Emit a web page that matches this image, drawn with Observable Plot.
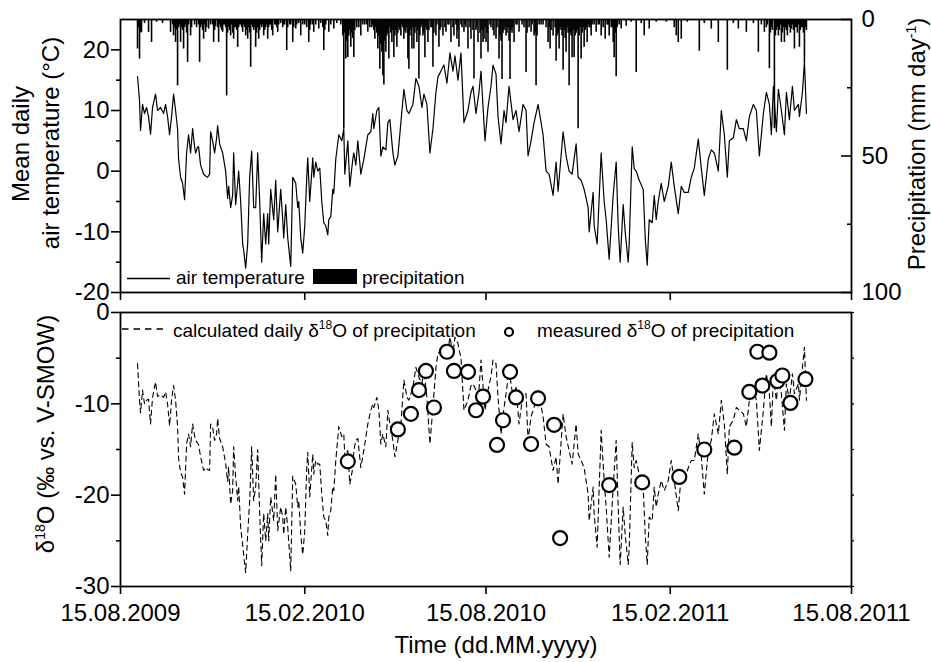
<!DOCTYPE html>
<html>
<head>
<meta charset="utf-8">
<script src="https://cdn.jsdelivr.net/npm/d3@7"></script>
<script src="https://cdn.jsdelivr.net/npm/@observablehq/plot@0.6"></script>
<style>
  body { margin: 0; background: #fff; }
  #chart { position: relative; width: 931px; height: 662px; font-family: "Liberation Sans", Arial, sans-serif; color: #000; overflow: hidden; }
  .ytitle, .xtitle { position: absolute; white-space: nowrap; font-size: 24px; line-height: 1; }
  .ytitle { transform: translate(-50%, -50%) rotate(-90deg); }
  .xtitle { transform: translate(-50%, -50%); }
  .ytitle sup, .xtitle sup { font-size: 14px; vertical-align: 9px; line-height: 0; }
</style>
</head>
<body>
<div id="chart">
  <div class="ytitle" style="left:21px;top:144px">Mean daily</div>
  <div class="ytitle" style="left:51px;top:143px">air temperature (°C)</div>
  <div class="ytitle" style="left:917px;top:144px">Precipitation (mm day<sup>-1</sup>)</div>
  <div class="ytitle" style="left:46px;top:434px">δ<sup>18</sup>O (‰ vs. V-SMOW)</div>
  <div class="xtitle" style="left:496px;top:645px">Time (dd.MM.yyyy)</div>
</div>
<script>
// ---------- data (day = days after 15.08.2009) ----------
const startDate = "2009-08-15";
const dateTicks = ["2009-08-15", "2010-02-15", "2010-08-15", "2011-02-15", "2011-08-15"];
const tempTicks = [-20, -10, 0, 10, 20];
const tempMinorTicks = [-15, -5, 5, 15];
const precipTicks = [0, 50, 100];
const precipMinorTicks = [25, 75];
const isoTicks = [-30, -20, -10, 0];
const isoMinorTicks = [-25, -15, -5];

// mean daily air temperature [day, °C]
const airTemperature = [[17,15.6],[19,11.6],[20,6.7],[22,11],[24,9.5],[26,10.5],[28,9],[30,6.1],[32,10.5],[35,12.7],[37,10],[40,10.5],[43,9.5],[45,11],[47,9],[49,6],[51,9],[53,12.7],[55,10],[57,7],[58,2],[60,-1],[62,-2],[64,-4.7],[66,3],[68,6],[70,3],[72,7],[74,4],[75,3],[77,4],[78,4],[80,1],[83,-0.5],[85,-0.8],[87,-1],[89,-0.5],[90,6.5],[92,5],[94,3],[96,5.5],[97,7.5],[99,4.5],[102,3],[105,0],[107,-4.5],[108,-2.5],[110,-6],[112,-4],[113,3],[115,-5.5],[117,-2],[118,0],[120,-5],[122,-12],[123,-13],[125,-16],[127,-12],[129,-1],[131,3.3],[133,-6],[135,-6],[137,3],[139,-5],[141,-15],[143,-7],[145,-12],[147,-7],[148,-12],[150,-3],[153,-8],[155,-1.5],[157,-10],[160,-3],[162,-8],[163,-11],[165,-5.5],[167,-11],[170,-15.7],[172,-1],[175,-2],[177,-6],[178,-5],[180,-11],[182,-13.5],[184,-9],[186,-1],[187,2.2],[189,-5],[192,2.2],[193,-1],[195,1.5],[197,0],[199,0.5],[201,-5],[203,-8.5],[205,-9],[207,-10.5],[208,-8],[210,-7.5],[212,-3],[213,-3.7],[215,2],[218,6],[221,5],[223,7],[224,-0.5],[227,5],[229,-2.5],[232,2],[233,3],[235,1],[237,5],[240,-0.5],[243,2],[247,6],[250,6.5],[252,9.5],[253,7],[256,10],[258,10.5],[260,2.5],[262,4],[265,3.5],[267,8],[269,8.5],[272,3],[274,1],[277,2.5],[280,8],[283,13.5],[286,10],[288,9.5],[292,11],[295,15.3],[298,14],[301,10.5],[303,12.7],[306,11],[309,3],[312,7],[315,13],[317,15.5],[320,16.5],[323,17.5],[326,14.5],[329,19.5],[332,16.5],[334,19],[337,15],[340,19.5],[343,8],[347,10],[350,13],[352,14],[355,9.5],[358,13],[360,16.5],[364,5],[367,10.5],[370,14],[372,17.5],[375,16],[377,9],[380,4.5],[383,10],[385,8],[388,14],[392,8.5],[395,10],[398,6.5],[402,11],[405,10],[407,2.5],[410,5],[413,8],[417,11],[422,6],[425,0],[428,-0.5],[432,-4],[435,1.5],[437,-3.3],[442,6.5],[445,2.5],[448,0],[451,-0.5],[455,4.5],[457,-1],[460,-1.5],[463,-3],[467,-6],[468,-10],[472,-3.5],[473,-9],[476,-12],[480,3],[483,-5],[485,-8],[488,-14.5],[492,-4],[495,1.5],[497,-9],[499,-15],[502,-5.5],[504,-10],[507,-15],[508,-12],[511,4],[513,0.4],[515,0],[518,-1.5],[522,-3],[524,-11],[526,-15.5],[528,-8],[531,-8.5],[533,-4],[535,-8],[537,-5],[540,-2],[543,-5],[547,-2.5],[550,1.5],[553,-2.5],[557,-7],[560,-2.5],[563,-3.5],[567,-3.5],[570,-1],[573,0.5],[577,5.3],[580,0.5],[583,-4],[587,2],[590,3.5],[593,3],[597,0],[600,10],[603,6],[606,-1],[608,5],[612,5.5],[615,8.5],[618,7],[622,7],[625,5],[628,9],[632,11],[635,10],[638,2.5],[642,9.5],[645,13],[648,11],[650,6],[652,14],[655,6.5],[657,13.5],[660,10],[663,6],[665,13],[668,8.5],[671,14],[673,10],[677,11],[678,9],[681,13],[683,18],[685,9.5]];

// daily precipitation [day, mm]
const precipitation = [[17,10.8],[18,3],[19,14.5],[20,5],[21,4.7],[24,1.5],[28,4.7],[31,8.4],[36,1],[42,1.5],[50,4.7],[52,2],[53,6],[54,3],[55,8.4],[56,4],[57,24.3],[58,3],[59,2],[60,8.4],[61,3],[62,4],[63,10.8],[64,3],[65,2],[66,5],[67,15.7],[68,2],[70,6],[71,3],[74,2],[76,3],[78,2],[79,15.7],[80,3],[81,2],[82,4],[83,7.2],[84,2],[85,4.7],[86,3],[88,3.5],[90,2],[92,2],[93,8.4],[94,4],[95,2.5],[97,3],[98,8.4],[99,2],[100,3],[101,4],[102,4.7],[103,2],[104,2],[105,3],[106,28],[107,5],[108,3],[109,4],[110,6],[111,2],[112,5],[113,7.2],[114,3],[115,3],[116,4],[117,10.2],[118,3],[119,2],[120,2],[121,3],[122,4.7],[123,2],[124,3],[125,6],[126,4],[127,7.2],[128,3],[129,5],[130,17.5],[131,2],[132,3],[133,4],[134,3],[135,10.2],[136,5],[137,3],[138,7.2],[139,4],[140,2],[141,3],[142,2],[143,6],[144,4],[145,3],[146,2],[147,7.2],[148,3],[149,2],[150,2],[151,4],[152,6],[154,2],[155,2],[156,3],[157,4.7],[158,2],[160,1.5],[162,3],[163,2],[164,2],[166,11.4],[167,3],[169,2],[170,2],[172,8.4],[173,3],[175,3.5],[176,2],[178,1.5],[180,6],[182,2],[184,2],[186,3],[188,8.4],[189,4],[190,2],[192,2],[193,4.7],[195,2],[198,3.5],[200,1.5],[202,3],[203,11.4],[204,4],[205,2],[208,4.7],[210,2],[213,3.5],[216,1.5],[220,2],[222,6],[223,40],[224,5],[225,14.5],[226,8],[227,13.9],[228,6],[229,4],[230,10.2],[231,5],[232,7],[233,13.9],[234,4],[236,3],[238,3],[240,6],[242,2],[244,2],[246,2],[247,4.7],[249,3],[251,3],[252,2],[253,4],[254,7.2],[255,3],[256,5],[257,10.8],[258,6],[259,18.2],[260,9],[261,12],[262,20.6],[263,24],[264,8],[265,12],[266,6],[267,5],[268,14.5],[269,3],[270,5],[271,8.4],[272,4],[273,13.9],[274,6],[275,4],[276,10.2],[277,5],[278,3],[279,4],[280,6],[281,2],[282,3],[283,7.2],[284,4],[285,5],[286,3],[287,14.5],[288,18.2],[289,6],[290,4],[291,10.8],[292,3],[293,10.8],[294,5],[295,3],[296,8.4],[297,4],[298,21.8],[299,6],[300,3],[301,2],[302,6],[303,5],[304,14],[305,3],[306,4],[307,8.4],[308,4],[310,3],[311,3],[312,17.5],[313,5],[315,6],[316,2],[318,10.2],[319,4],[320,3],[322,6],[324,3],[325,4.7],[327,2],[328,2],[330,8.4],[332,3],[333,6],[335,2],[336,7.2],[337,4],[338,10.2],[340,2],[341,3],[343,4.7],[344,2],[345,3],[347,10.8],[349,3],[350,7.2],[352,4],[353,21.8],[355,4],[356,3],[357,8.4],[359,5],[360,14.5],[361,4],[362,8.4],[363,7.2],[364,3],[365,8.4],[366,5],[367,12],[369,2],[370,3],[372,4],[373,6],[375,7.2],[376,3],[378,14.5],[379,6],[380,8],[381,22],[382,5],[383,4],[384,3],[385,6],[386,5],[387,3],[388,8],[389,22],[390,4],[391,5],[392,3],[393,8.4],[395,2],[396,2],[398,4.7],[401,2],[403,3],[405,19.4],[406,5],[408,3],[410,4.7],[411,2],[413,6],[414,5],[415,24.3],[416,6],[418,2],[420,2],[422,2],[425,3],[427,8.4],[428,3],[429,10.8],[430,4],[432,6],[434,3],[435,15.3],[436,6],[437,5],[438,10.8],[439,3],[440,4],[441,6],[442,18.6],[443,4],[444,7],[445,12],[446,3],[447,5],[448,24.3],[449,5],[450,6],[451,14],[452,4],[453,13.9],[454,6],[455,5],[456,4],[457,40],[458,6],[459,3],[460,14.5],[461,5],[462,3],[463,10.2],[464,4],[465,3],[466,8.4],[467,2],[468,3],[469,3],[470,6],[471,2],[473,2],[475,4.7],[477,2],[478,2],[480,6],[482,3],[484,7.2],[486,2],[487,2],[488,6],[490,3],[491,3],[492,8.4],[493,14],[494,5],[495,21],[496,3],[498,2],[500,3.5],[505,2.5],[510,1],[515,19.4],[520,1.5],[523,6],[528,3.5],[535,1],[545,1],[553,3],[555,6],[557,8.4],[560,7.2],[566,1],[578,11.6],[583,1.5],[590,3.5],[597,8.4],[606,18.6],[612,1.5],[617,3.5],[625,4.7],[632,1.5],[637,12],[640,2],[643,4.7],[645,3],[646,2],[648,18],[649,5],[650,3],[651,4],[653,40],[654,6],[655,4],[656,3],[657,6],[658,4],[659,2],[660,8.4],[661,5],[662,3],[663,8.4],[664,3],[665,4],[666,6],[667,2],[668,3],[669,5],[670,3.5],[671,2],[672,4],[673,10.8],[674,3],[675,3],[676,5],[677,2],[678,10.2],[679,4],[680,3],[681,3],[682,5],[683,15.7],[684,3],[685,4]];

// calculated daily δ18O of precipitation [day, ‰]
const calculatedDelta18O = [[17,-5.6],[19,-9.6],[20,-11],[22,-8.5],[24,-10],[26,-9.6],[28,-9.5],[30,-12.2],[32,-9.3],[35,-7.6],[37,-9.2],[40,-9],[43,-9.3],[45,-8.7],[47,-10],[49,-12.4],[51,-9.6],[53,-8],[55,-9.6],[57,-12.5],[58,-16],[60,-17.5],[62,-18],[64,-19.9],[66,-14.4],[68,-13.3],[70,-14.7],[72,-12.2],[74,-13.5],[75,-14],[77,-14.3],[78,-14.5],[80,-15.8],[83,-17.3],[85,-17],[87,-17.2],[89,-17.3],[90,-12.2],[92,-12.6],[94,-14],[96,-13.3],[97,-11.6],[99,-13.8],[102,-14.7],[105,-16.5],[107,-18.5],[108,-16.9],[110,-21],[112,-19.5],[113,-14.7],[115,-18],[117,-20.6],[118,-19],[120,-23.5],[122,-25.5],[123,-26.5],[125,-28.5],[127,-24.3],[129,-20.6],[131,-14.7],[133,-20.6],[135,-19.1],[137,-15],[139,-22],[141,-27.7],[143,-22],[145,-25],[147,-22],[148,-25],[150,-20.2],[153,-22.8],[155,-17.7],[157,-23.9],[160,-21.3],[162,-22.4],[163,-24.3],[165,-21.3],[167,-23.5],[170,-28.3],[172,-17.9],[175,-18.8],[177,-21.3],[178,-20.6],[180,-24.3],[182,-26.5],[184,-23.9],[186,-17],[187,-15.3],[189,-20.2],[192,-15.5],[193,-17.7],[195,-16.2],[197,-16.6],[199,-16.6],[201,-19.9],[203,-22.4],[205,-22.8],[207,-24.4],[208,-22.4],[210,-21.7],[212,-19.1],[213,-19.5],[215,-16.2],[218,-12.5],[221,-13.6],[223,-13.3],[224,-15.8],[227,-15.1],[229,-18.8],[232,-17],[233,-15.1],[235,-14],[237,-13.8],[240,-17],[243,-15.1],[247,-12.2],[250,-10.7],[252,-10],[253,-10.4],[256,-9.3],[258,-10.7],[260,-14.4],[262,-13.3],[265,-14.7],[267,-10.7],[269,-12.2],[272,-14],[274,-15.8],[277,-14],[280,-12.2],[283,-7.4],[286,-9.3],[288,-9.6],[292,-8.2],[295,-6],[298,-7.1],[301,-7.8],[303,-6.3],[306,-9.3],[309,-14.4],[312,-10.4],[315,-6],[317,-4.5],[320,-4.1],[323,-4.5],[326,-4.9],[329,-2.7],[332,-4.5],[334,-2.7],[337,-3.4],[340,-5],[343,-10.7],[347,-9.6],[350,-8],[352,-7.8],[355,-8.5],[358,-8.5],[360,-5.2],[364,-10.7],[367,-8.5],[370,-7],[372,-5.2],[375,-5.6],[377,-9.3],[380,-13.3],[383,-10.4],[385,-8.9],[388,-6.3],[392,-9.3],[395,-8.2],[398,-12.2],[402,-8.9],[405,-8.9],[407,-14],[410,-11.4],[413,-10.4],[417,-8.5],[422,-11.4],[425,-14.4],[428,-14.7],[432,-17.3],[435,-15.8],[437,-18.8],[442,-11.1],[445,-13.6],[448,-15.1],[451,-16.6],[455,-12.2],[457,-15.5],[460,-16.2],[463,-17],[467,-19.9],[468,-22.8],[472,-19.1],[473,-22],[476,-25.7],[480,-12.9],[483,-18.4],[485,-21.3],[488,-26.8],[492,-19.1],[495,-14],[497,-21.3],[499,-27.6],[502,-21.3],[504,-24.3],[507,-27.6],[508,-25.7],[511,-14.2],[513,-17],[515,-16.2],[518,-17.7],[522,-19.1],[524,-24.3],[526,-27.6],[528,-22.4],[531,-22.8],[533,-19.1],[535,-21.3],[537,-19.9],[540,-18.4],[543,-19.5],[547,-18.4],[550,-16.2],[553,-18.4],[557,-21.7],[560,-17.7],[563,-18.4],[567,-17],[570,-16.2],[573,-16.2],[577,-13.3],[580,-15.8],[583,-19.9],[587,-15.1],[590,-14],[593,-11.1],[597,-13.3],[600,-9.6],[603,-12.2],[606,-17.7],[608,-12.5],[612,-11.8],[615,-10.4],[618,-10.7],[622,-11.1],[625,-12.5],[628,-9.6],[632,-8.2],[635,-9.6],[638,-15.1],[642,-10.7],[645,-6.7],[648,-8.9],[650,-12.5],[652,-7.1],[655,-9.6],[657,-7.1],[660,-8.9],[663,-12.9],[665,-7.8],[668,-9.6],[671,-6.7],[673,-8.9],[677,-7.8],[678,-9.6],[681,-6],[683,-3.8],[685,-9.6]];

// measured δ18O of precipitation [day, ‰]
const measuredDelta18O = [[227,-16.3],[277,-12.8],[290,-11.1],[298,-8.5],[305,-6.4],[313,-10.4],[326,-4.3],[333,-6.4],[347,-6.5],[355,-10.7],[362,-9.2],[376,-14.5],[382,-11.8],[389,-6.5],[395,-9.3],[410,-14.4],[417,-9.4],[433,-12.3],[439,-24.7],[488,-18.9],[521,-18.6],[558,-18],[583,-15],[613,-14.8],[628,-8.7],[636,-4.3],[641,-8],[648,-4.4],[656,-7.5],[661,-6.9],[669,-9.9],[684,-7.3]];

// ---------- drawing ----------
const t0 = new Date(startDate);
const toDate = d => d3.utcDay.offset(t0, d[0]);
const xDomain = [new Date(dateTicks[0]), new Date(dateTicks[dateTicks.length - 1])];
const xTickDates = dateTicks.map(s => new Date(s));
const fmtDate = d3.utcFormat("%d.%m.%Y");
const plain = d => String(d);
const blank = () => "";

const W = 931, ML = 120, MR = 80;
const innerW = W - ML - MR;
const baseStyle = {
  fontFamily: '"Liberation Sans", Arial, sans-serif',
  fontSize: "24px",
  color: "#000",
  background: "transparent",
  position: "absolute",
  left: "0px",
  overflow: "visible"
};

const chart = document.getElementById("chart");

// top panel: precipitation (right axis, reversed)
const precipPlot = Plot.plot({
  width: W, height: 300, marginLeft: ML, marginRight: MR, marginTop: 19, marginBottom: 8,
  style: {...baseStyle, top: "0px"},
  x: {type: "utc", domain: xDomain, axis: null},
  y: {domain: [0, 100], reverse: true},
  marks: [
    Plot.ruleX(precipitation, {x: toDate, y1: 0, y2: d => d[1], stroke: "#000", strokeWidth: 1.6}),
    Plot.axisY(precipTicks, {anchor: "right", tickSize: 0, tickPadding: 10, tickFormat: plain, label: null}),
    Plot.tickY(precipTicks, {y: d => d, stroke: "#000", strokeWidth: 1.6, insetLeft: innerW - 10}),
    Plot.tickY(precipMinorTicks, {y: d => d, stroke: "#000", strokeWidth: 1.6, insetLeft: innerW - 4})
  ]
});
chart.appendChild(precipPlot);

// top panel: air temperature (left axis)
const tempPlot = Plot.plot({
  width: W, height: 300, marginLeft: ML, marginRight: MR, marginTop: 19, marginBottom: 8,
  style: {...baseStyle, top: "0px"},
  x: {type: "utc", domain: xDomain},
  y: {domain: [-20, 25]},
  marks: [
    Plot.axisX(xTickDates, {tickSize: 8, tickFormat: blank, strokeWidth: 1.6, label: null}),
    Plot.axisY(tempTicks, {tickSize: 9, tickPadding: 2, tickFormat: plain, strokeWidth: 1.6, label: null}),
    Plot.axisY(tempMinorTicks, {tickSize: 4, tickFormat: blank, strokeWidth: 1.6, label: null}),
    Plot.line(airTemperature, {x: toDate, y: d => d[1], stroke: "#000", strokeWidth: 1.2}),
    Plot.frame({stroke: "#000", strokeWidth: 1.8})
  ]
});
chart.appendChild(tempPlot);

// bottom panel: δ18O
const isoPlot = Plot.plot({
  width: W, height: 362, marginLeft: ML, marginRight: MR, marginTop: 12, marginBottom: 76,
  style: {...baseStyle, top: "300px"},
  x: {type: "utc", domain: xDomain},
  y: {domain: [-30, 0]},
  marks: [
    Plot.axisX(xTickDates, {tickSize: 8, tickPadding: 9, tickFormat: fmtDate, strokeWidth: 1.6, label: null}),
    Plot.axisY(isoTicks, {tickSize: 9, tickPadding: 2, tickFormat: plain, strokeWidth: 1.6, label: null}),
    Plot.axisY(isoMinorTicks, {tickSize: 4, tickFormat: blank, strokeWidth: 1.6, label: null}),
    Plot.axisY([...isoTicks, ...isoMinorTicks], {anchor: "right", tickSize: 2, tickFormat: blank, strokeWidth: 1.2, label: null}),
    Plot.line(calculatedDelta18O, {x: toDate, y: d => d[1], stroke: "#000", strokeWidth: 1.1, strokeDasharray: "5,4"}),
    Plot.dot(measuredDelta18O, {x: toDate, y: d => d[1], r: 7, stroke: "#000", strokeWidth: 2.2, fill: "#fff"}),
    Plot.frame({stroke: "#000", strokeWidth: 1.8})
  ]
});
chart.appendChild(isoPlot);

// legends
const leg = d3.select(chart).append("svg")
  .attr("width", W).attr("height", 662)
  .style("position", "absolute").style("left", "0px").style("top", "0px")
  .style("pointer-events", "none")
  .attr("font-family", '"Liberation Sans", Arial, sans-serif')
  .attr("font-size", 19);

leg.append("line").attr("x1", 127).attr("x2", 170).attr("y1", 278.5).attr("y2", 278.5)
  .attr("stroke", "#000").attr("stroke-width", 1.3);
leg.append("text").attr("x", 176).attr("y", 284).text("air temperature");
leg.append("rect").attr("x", 313).attr("y", 269).attr("width", 44).attr("height", 15).attr("fill", "#000");
leg.append("text").attr("x", 362).attr("y", 284).text("precipitation");

leg.append("line").attr("x1", 122).attr("x2", 164).attr("y1", 329).attr("y2", 329)
  .attr("stroke", "#000").attr("stroke-width", 1.3).attr("stroke-dasharray", "6.5,5");
const t1 = leg.append("text").attr("x", 173).attr("y", 337);
t1.append("tspan").text("calculated daily δ");
t1.append("tspan").attr("font-size", 12).attr("dy", -8).text("18");
t1.append("tspan").attr("dy", 8).text("O of precipitation");
leg.append("circle").attr("cx", 509).attr("cy", 332).attr("r", 4)
  .attr("fill", "#fff").attr("stroke", "#000").attr("stroke-width", 2.2);
const t2 = leg.append("text").attr("x", 537).attr("y", 337);
t2.append("tspan").text("measured δ");
t2.append("tspan").attr("font-size", 12).attr("dy", -8).text("18");
t2.append("tspan").attr("dy", 8).text("O of precipitation");
</script>
</body>
</html>
